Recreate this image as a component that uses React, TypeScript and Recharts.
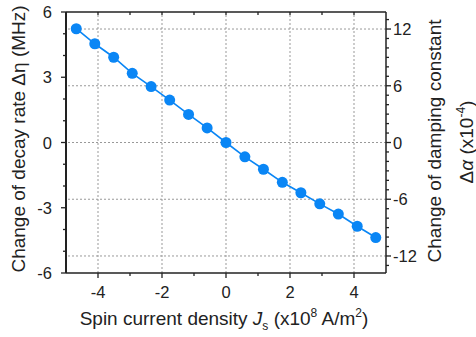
import { LineChart, Line, XAxis, YAxis, ReferenceLine } from "recharts";

// spin current density Js (x10^8 A/m^2)
const jsValues = [-4.68, -4.1, -3.51, -2.93, -2.34, -1.76, -1.17, -0.59, 0, 0.59, 1.17, 1.76, 2.34, 2.93, 3.51, 4.1, 4.68];
// change of decay rate (MHz)
const etaValues = [5.23, 4.54, 3.92, 3.18, 2.57, 1.95, 1.29, 0.67, 0, -0.66, -1.23, -1.83, -2.31, -2.82, -3.29, -3.85, -4.37];

const xTicks = [-4, -3, -2, -1, 0, 1, 2, 3, 4];
const xMajor = [-4, -2, 0, 2, 4];
const etaTicks = [-6, -5, -4, -3, -2, -1, 0, 1, 2, 3, 4, 5, 6];
const etaMajor = [-6, -3, 0, 3, 6];
const alphaTicks = [-13, -12, -11, -10, -9, -8, -7, -6, -5, -4, -3, -2, -1, 0, 1, 2, 3, 4, 5, 6, 7, 8, 9, 10, 11, 12, 13];
const alphaMajor = [-12, -6, 0, 6, 12];

const data = jsValues.map((js, i) => ({ js, eta: etaValues[i] }));

const FONT = "'Liberation Sans', Arial, Helvetica, sans-serif";
const INK = "#222";
const BLUE = "#0a86f5";
const GRID = "#999";

const BottomTick = ({ x, y, payload }: any) => {
  const major = xMajor.includes(payload.value);
  return (
    <g>
      <line x1={x} x2={x} y1={y} y2={y + (major ? 5 : 3)} stroke={INK} strokeWidth={1.3} />
      {major && (
        <text x={x} y={y + 25} textAnchor="middle" fontSize={16.5} fill={INK} fontFamily={FONT}>
          {payload.value}
        </text>
      )}
    </g>
  );
};

const TopTick = ({ x, y }: any) => (
  <line x1={x} x2={x} y1={y} y2={y + 3} stroke={INK} strokeWidth={1.3} />
);

const LeftTick = ({ x, y, payload }: any) => {
  const major = etaMajor.includes(payload.value);
  return (
    <g>
      <line x1={x - (major ? 5 : 3)} x2={x} y1={y} y2={y} stroke={INK} strokeWidth={1.3} />
      {major && (
        <text x={x - 14} y={y + 6} textAnchor="end" fontSize={16.5} fill={INK} fontFamily={FONT}>
          {payload.value}
        </text>
      )}
    </g>
  );
};

const RightTick = ({ x, y, payload }: any) => {
  const major = alphaMajor.includes(payload.value);
  return (
    <g>
      <line x1={x} x2={x + (major ? 5 : 3)} y1={y} y2={y} stroke={INK} strokeWidth={1.3} />
      {major && (
        <text x={x + 7} y={y + 6} textAnchor="start" fontSize={16.5} fill={INK} fontFamily={FONT}>
          {payload.value}
        </text>
      )}
    </g>
  );
};

const XLabel = () => (
  <text x={224} y={325} textAnchor="middle" fontSize={19} fill={INK} fontFamily={FONT}>
    {"Spin current density "}
    <tspan fontStyle="italic">J</tspan>
    <tspan fontSize={12} dy={5}>s</tspan>
    <tspan dy={-5}>{" (x10"}</tspan>
    <tspan fontSize={12} dy={-8}>8</tspan>
    <tspan dy={8}>{" A/m"}</tspan>
    <tspan fontSize={12} dy={-8}>2</tspan>
    <tspan dy={8}>)</tspan>
  </text>
);

const LeftLabel = () => (
  <text transform="translate(25,139) rotate(-90)" textAnchor="middle" fontSize={19} fill={INK} fontFamily={FONT}>
    {"Change of decay rate \u0394\u03b7 (MHz)"}
  </text>
);

const RightLabel = () => (
  <g>
    <text transform="translate(441,141) rotate(-90)" textAnchor="middle" fontSize={19} fill={INK} fontFamily={FONT}>
      Change of damping constant
    </text>
    <text transform="translate(473,142) rotate(-90)" textAnchor="middle" fontSize={19} fill={INK} fontFamily={FONT}>
      {"\u0394"}
      <tspan fontStyle="italic">{"\u03b1"}</tspan>
      {" (x10"}
      <tspan fontSize={12} dy={-8}>-4</tspan>
      <tspan dy={8}>)</tspan>
    </text>
  </g>
);

export default function App() {
  return (
    <div style={{ position: "absolute", left: 0, top: 0, width: 476, height: 337, background: "#fff" }}>
      <LineChart width={476} height={337} data={data} margin={{ top: 0, right: 30, bottom: 24, left: 6 }}>
        <XAxis
          dataKey="js"
          type="number"
          domain={[-5, 5]}
          ticks={xTicks}
          interval={0}
          tickSize={0}
          tickMargin={0}
          tickLine={false}
          height={40}
          axisLine={{ stroke: INK, strokeWidth: 1.5 }}
          tick={<BottomTick />}
          label={<XLabel />}
        />
        <XAxis
          xAxisId="top"
          orientation="top"
          dataKey="js"
          type="number"
          domain={[-5, 5]}
          ticks={xTicks}
          interval={0}
          tickSize={0}
          tickMargin={0}
          tickLine={false}
          height={12}
          axisLine={{ stroke: INK, strokeWidth: 1.5 }}
          tick={<TopTick />}
        />
        <YAxis
          type="number"
          domain={[-6, 6]}
          ticks={etaTicks}
          interval={0}
          width={60}
          tickSize={0}
          tickMargin={0}
          tickLine={false}
          allowDataOverflow
          axisLine={{ stroke: INK, strokeWidth: 2 }}
          tick={<LeftTick />}
          label={<LeftLabel />}
        />
        <YAxis
          yAxisId="right"
          orientation="right"
          type="number"
          domain={[-13.8, 13.8]}
          ticks={alphaTicks}
          interval={0}
          width={60}
          tickSize={0}
          tickMargin={0}
          tickLine={false}
          allowDataOverflow
          axisLine={{ stroke: INK, strokeWidth: 1.5 }}
          tick={<RightTick />}
          label={<RightLabel />}
        />
        {xMajor.map((v) => (
          <ReferenceLine key={"gx" + v} x={v} stroke={GRID} strokeDasharray="2 2" strokeWidth={1} />
        ))}
        {alphaMajor.map((v) => (
          <ReferenceLine key={"gy" + v} y={v} yAxisId="right" stroke={GRID} strokeDasharray="2 2" strokeWidth={1} />
        ))}
        <Line
          dataKey="eta"
          stroke={BLUE}
          strokeWidth={1.6}
          dot={{ r: 5.5, fill: BLUE, stroke: BLUE, strokeWidth: 0 }}
          isAnimationActive={false}
        />
      </LineChart>
    </div>
  );
}
